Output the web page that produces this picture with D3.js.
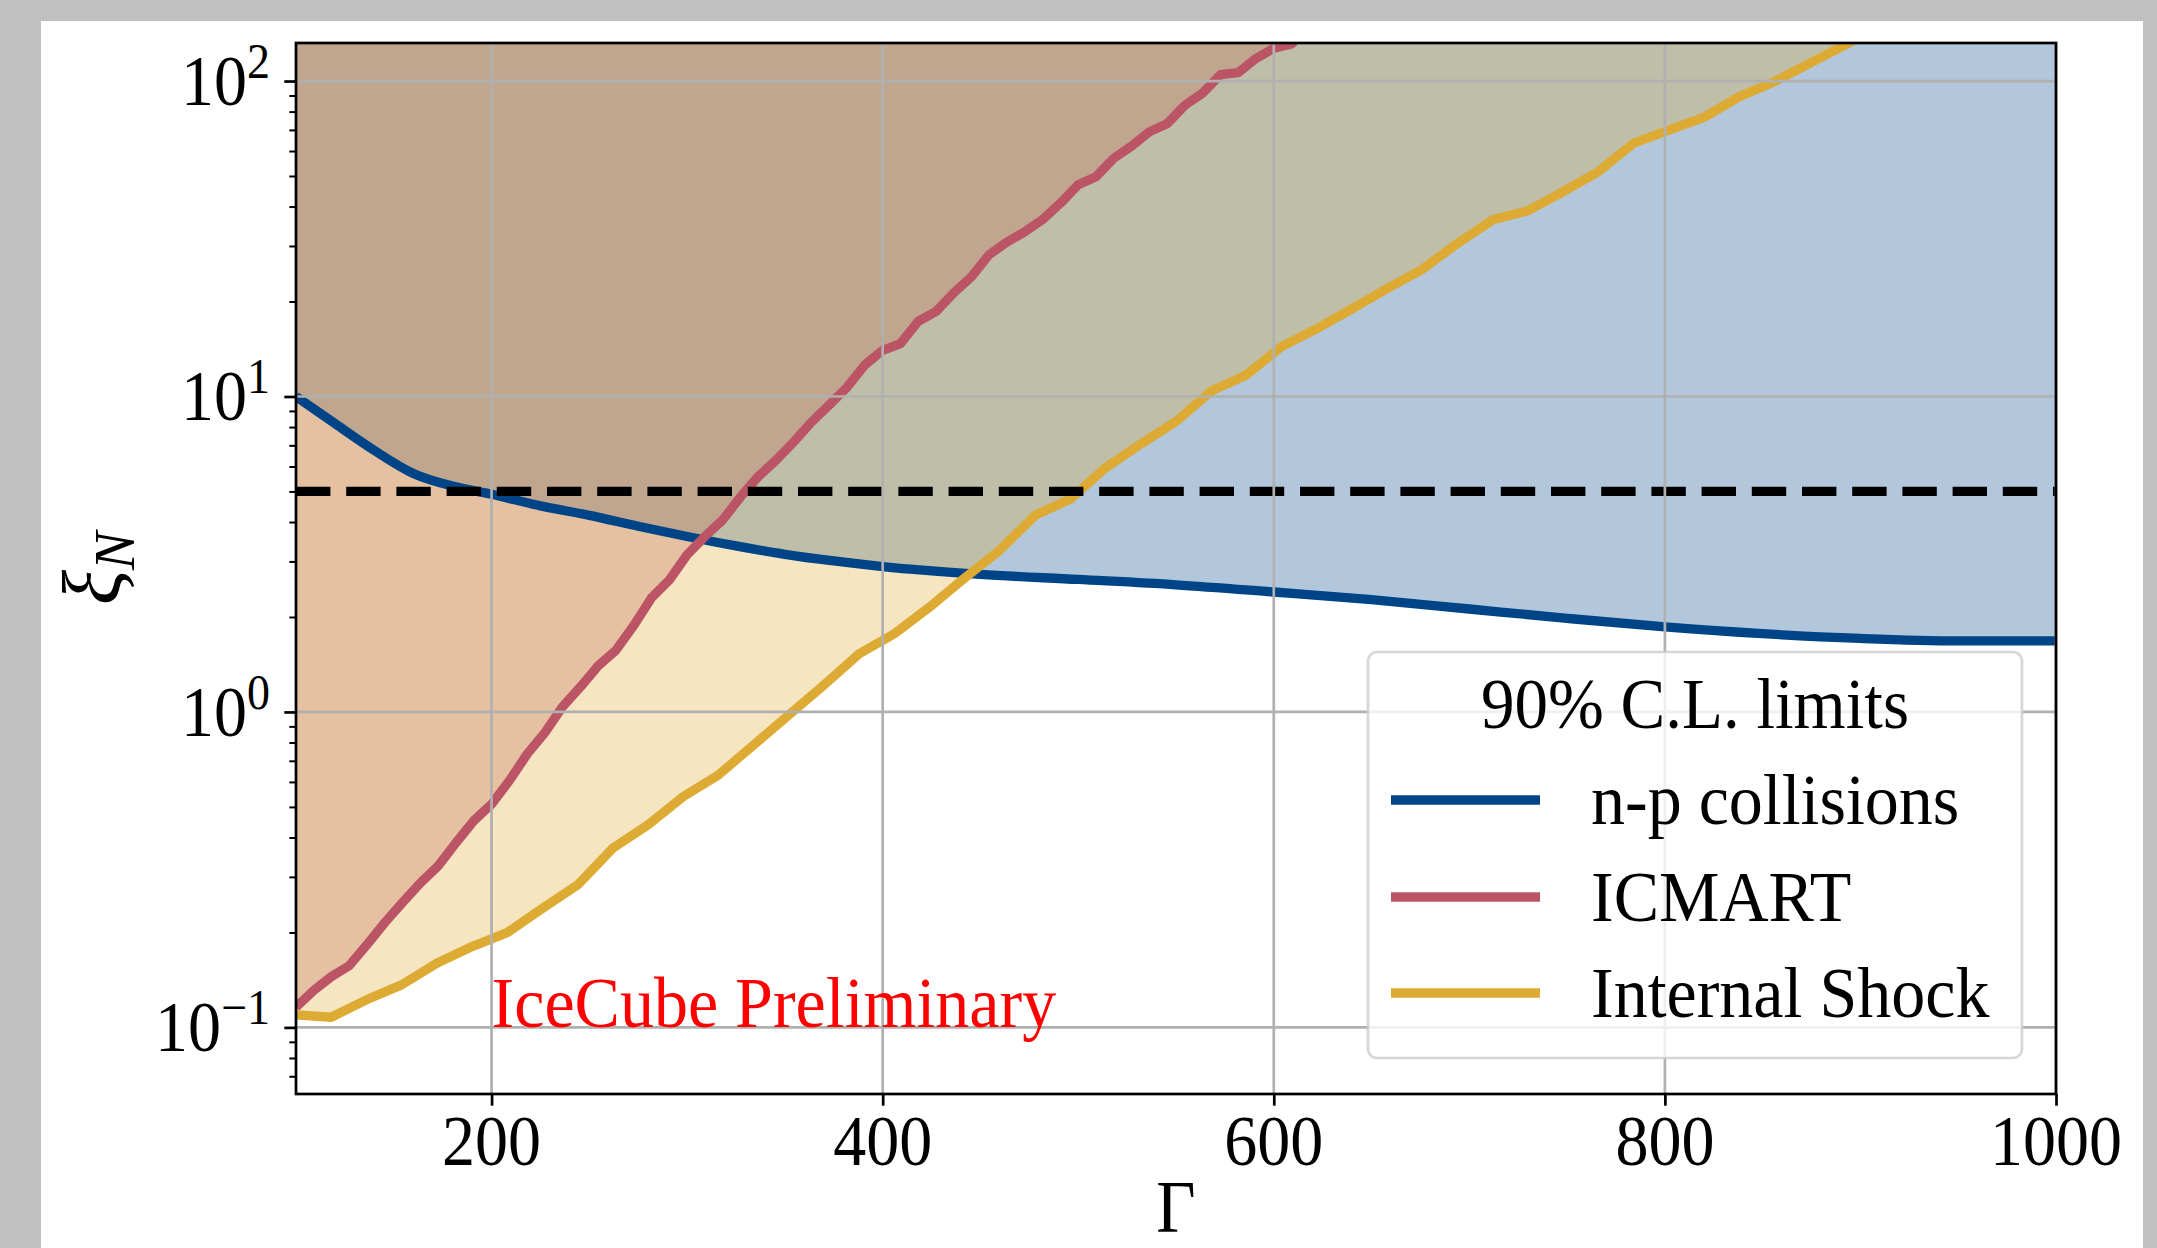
<!DOCTYPE html>
<html><head><meta charset="utf-8">
<script src="https://cdn.jsdelivr.net/npm/d3@7"></script>
<style>html,body{margin:0;padding:0;background:#c0c0c0;} svg{display:block}</style>
</head><body>
<svg id="chart" width="2157" height="1248"></svg>
<script>
// ---------------- data ----------------
const npGamma = [100,120,140,160,180,200,225,250,275,300,325,350,375,400,450,500,550,600,650,700,750,800,850,900,950,1000];
const npXi    = [10.0,8.2,6.75,5.7,5.2,4.9,4.5,4.2,3.88,3.6,3.36,3.16,3.01,2.89,2.73,2.63,2.53,2.40,2.27,2.12,1.98,1.86,1.77,1.71,1.68,1.68];

const icmartGamma = [100,109.09,118.18,127.27,136.36,145.45,154.55,163.64,172.73,181.82,190.91,200,209.09,218.18,227.27,236.36,245.45,254.55,263.64,272.73,281.82,290.91,300,309.09,318.18,327.27,336.36,345.45,354.55,363.64,372.73,381.82,390.91,400,409.09,418.18,427.27,436.36,445.45,454.55,463.64,472.73,481.82,490.91,500,509.09,518.18,527.27,536.36,545.45,554.55,563.64,572.73,581.82,590.91,600,609.09,618.18];
const icmartXi    = [0.116,0.131,0.145,0.157,0.183,0.215,0.249,0.287,0.325,0.385,0.452,0.51,0.605,0.735,0.86,1.04,1.20,1.40,1.57,1.88,2.30,2.62,3.15,3.6,4.06,4.8,5.57,6.28,7.18,8.3,9.4,10.7,12.6,14.0,14.7,17.3,18.6,21.3,24.0,28.2,30.9,33.3,36.4,41.0,46.9,49.7,56.9,62.2,69.0,73.2,83.8,91.6,104.7,106.3,117.9,127,131,150];

const isGamma = [100,118,136,154,172,190,208,226,244,262,280,298,316,334,352,370,388,406,424,442,460,478,496,514,532,550,568,586,604,622,640,658,676,694,712,730,748,766,784,802,820,838,856,874,892,910];
const isXi    = [0.1096,0.1077,0.1223,0.1364,0.1597,0.1804,0.1998,0.2385,0.2829,0.3698,0.4384,0.539,0.631,0.786,0.978,1.218,1.53,1.77,2.15,2.66,3.26,4.20,4.73,5.94,7.07,8.33,10.4,11.7,14.4,16.4,18.95,22.0,25.3,30.6,36.3,38.8,44.6,51.6,63.5,69.9,76.7,89.2,99.5,113.8,130,150];

const thresholdXi = 5;
const xTicks = [200,400,600,800,1000];
const xTickLabels = ["200","400","600","800","1000"];
const yTicks = [0.1,1,10,100];
const yTickExps = ["\u22121","0","1","2"];
const seriesNames = ["n-p collisions","ICMART","Internal Shock"];
const seriesColors = ["#004488","#BB5566","#DDAA33"];
const legendTitle = "90% C.L. limits";
const watermark = "IceCube Preliminary";

// ---------------- layout ----------------
const W = 2157, H = 1248;
const m = {l:296, r:2056, t:43, b:1094};
const FONT = "'Liberation Serif','Times New Roman',serif";
const SY = 1.08;
const svg = d3.select('#chart');
svg.append('rect').attr('width',W).attr('height',H).attr('fill','#c0c0c0');
svg.append('rect').attr('x',41).attr('y',21).attr('width',2143-41).attr('height',H-21).attr('fill','#ffffff');

const x = d3.scaleLinear().domain([100,1000]).range([m.l,m.r]);
const y = d3.scaleLog().domain([0.0615,132]).range([m.b,m.t]);

svg.append('defs').append('clipPath').attr('id','clip')
  .append('rect').attr('x',m.l).attr('y',m.t).attr('width',m.r-m.l).attr('height',m.b-m.t);

const plot = svg.append('g').attr('clip-path','url(#clip)');
const zip = (a,b)=>a.map((v,i)=>[v,b[i]]);
const series = [zip(npGamma,npXi), zip(icmartGamma,icmartXi), zip(isGamma,isXi)];
const curves = [d3.curveMonotoneX, d3.curveLinear, d3.curveLinear];

// fills (above each curve)
series.forEach((s,i)=>{
  const area = d3.area().curve(curves[i]).x(d=>x(d[0])).y0(m.t-30).y1(d=>y(d[1]));
  plot.append('path').datum(s).attr('d',area).attr('fill',seriesColors[i]).attr('fill-opacity',0.3);
});

// grid
const grid = svg.append('g');
xTicks.forEach(v=>grid.append('line').attr('x1',x(v)).attr('x2',x(v)).attr('y1',m.t).attr('y2',m.b)
  .attr('stroke','#b0b0b0').attr('stroke-width',2.7));
yTicks.forEach(v=>grid.append('line').attr('x1',m.l).attr('x2',m.r).attr('y1',y(v)).attr('y2',y(v))
  .attr('stroke','#b0b0b0').attr('stroke-width',2.7));

// lines
series.forEach((s,i)=>{
  const line = d3.line().curve(curves[i]).x(d=>x(d[0])).y(d=>y(d[1]));
  plot.append('path').datum(s).attr('d',line).attr('fill','none').attr('stroke',seriesColors[i])
    .attr('stroke-width',9.3).attr('stroke-linejoin','round');
});

// threshold dashed line
plot.append('line').attr('x1',x(100)).attr('x2',x(1000)).attr('y1',y(thresholdXi)).attr('y2',y(thresholdXi))
  .attr('stroke','#000').attr('stroke-width',9.3).attr('stroke-dasharray','34.4 15.8');

// spines
svg.append('rect').attr('x',m.l).attr('y',m.t).attr('width',m.r-m.l).attr('height',m.b-m.t)
  .attr('fill','none').attr('stroke','#000').attr('stroke-width',2.7);

// axes ticks
const minorY = y.ticks().filter(v=>Math.abs(Math.log10(v)-Math.round(Math.log10(v)))>1e-6);
const gx = svg.append('g').attr('transform',`translate(0,${m.b})`)
  .call(d3.axisBottom(x).tickValues(xTicks).tickSize(11.7).tickFormat(''));
const gyMaj = svg.append('g').attr('transform',`translate(${m.l},0)`)
  .call(d3.axisLeft(y).tickValues(yTicks).tickSize(11.7).tickFormat(''));
const gyMin = svg.append('g').attr('transform',`translate(${m.l},0)`)
  .call(d3.axisLeft(y).tickValues(minorY).tickSize(6.7).tickFormat(''));
[gx,gyMaj,gyMin].forEach(g=>g.select('.domain').remove());
gx.selectAll('line').attr('stroke','#000').attr('stroke-width',2.7);
gyMaj.selectAll('line').attr('stroke','#000').attr('stroke-width',2.7);
gyMin.selectAll('line').attr('stroke','#000').attr('stroke-width',2.0);

function txt(parent, px, py, anchor, size, color, sy){
  return parent.append('text')
    .attr('transform',`translate(${px},${py}) scale(1,${sy||SY})`)
    .attr('text-anchor',anchor).attr('font-family',FONT).attr('font-size',size)
    .attr('fill',color||'#000');
}

// x tick labels
xTicks.forEach((v,i)=>txt(svg, x(v), 1165, 'middle', 66).text(xTickLabels[i]));
// y tick labels
yTicks.forEach((v,i)=>{
  const t = txt(svg, 270, y(v)+24, 'end', 66);
  t.append('tspan').text('10');
  t.append('tspan').attr('font-size',46).attr('dy',-25).text(yTickExps[i]);
});

// axis labels
txt(svg, (m.l+m.r)/2, 1232, 'middle', 68).text('\u0393');
const yl = svg.append('text').attr('transform',`translate(120,${(m.t+m.b)/2}) rotate(-90)`)
  .attr('text-anchor','middle').attr('font-family',FONT).attr('font-style','italic').attr('font-size',82);
yl.append('tspan').text('\u03BE');
yl.append('tspan').attr('font-size',57).attr('dy',14).text('N');

// watermark
txt(svg, x(200), y(0.1), 'start', 68, '#ff0000', 1.05).text(watermark);

// legend
const lg = svg.append('g');
lg.append('rect').attr('x',1368).attr('y',652).attr('width',654).attr('height',406).attr('rx',9)
  .attr('fill','#ffffff').attr('fill-opacity',0.8).attr('stroke','#cccccc').attr('stroke-opacity',0.8).attr('stroke-width',2.7);
txt(lg, 1695, 728, 'middle', 67, '#000', 1.06).text(legendTitle);
const rowY = [800,897,993];
seriesNames.forEach((n,i)=>{
  lg.append('line').attr('x1',1391).attr('x2',1540).attr('y1',rowY[i]).attr('y2',rowY[i])
    .attr('stroke',seriesColors[i]).attr('stroke-width',9.3);
  txt(lg, 1591, rowY[i]+24, 'start', 68, '#000', 1.05).text(n);
});
</script>
</body></html>
